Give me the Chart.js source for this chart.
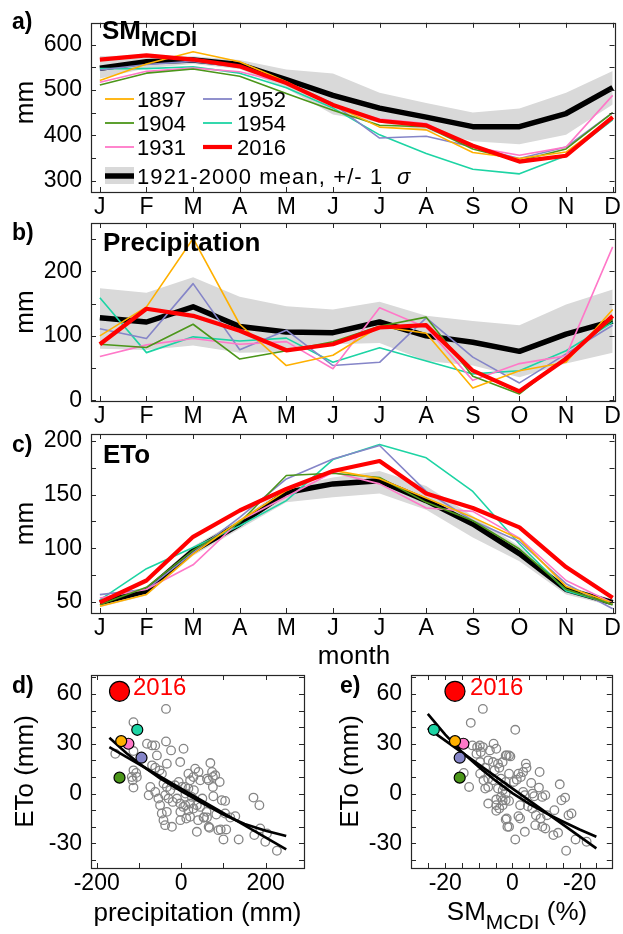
<!DOCTYPE html>
<html><head><meta charset="utf-8">
<script src="https://cdn.jsdelivr.net/npm/chart.js@4.4.1/dist/chart.umd.min.js"></script>
<style>
html,body{margin:0;padding:0;background:#fff;}
#wrap{position:relative;width:623px;height:934px;overflow:hidden;background:#fff;}
canvas{position:absolute;left:0;top:0;}
</style></head><body>
<div id="wrap">
<canvas id="ca" width="623" height="934" style="width:623px;height:934px"></canvas>
<canvas id="cb" width="623" height="934" style="width:623px;height:934px"></canvas>
<canvas id="cc" width="623" height="934" style="width:623px;height:934px"></canvas>
<canvas id="cd" width="623" height="934" style="width:623px;height:934px"></canvas>
<canvas id="ce" width="623" height="934" style="width:623px;height:934px"></canvas>
</div>
<script>
// ---------------- DATA ----------------
const months = ['J','F','M','A','M','J','J','A','S','O','N','D'];
const years = ['1897','1904','1931','1952','1954','2016'];

// a) SM_MCDI (mm)
const smMean  = [548,562,566,556,523,488,460,440,419,419,448,505];
const smUpper = [575,576,574,566,545,536,494,471,450,459,494,542];
const smLower = [525,548,557,546,503,446,428,410,387,380,401,468];
const sm1897 = [521,557,584,562,518,467,418,412,362,349,363,440];
const sm1904 = [511,537,546,530,492,455,422,419,370,344,370,450];
const sm1931 = [517,541,548,540,515,465,436,426,374,356,374,488];
const sm1952 = [544,556,563,550,515,470,394,398,374,349,374,450];
const sm1954 = [547,547,551,537,505,460,401,360,325,315,355,434];
const sm2016 = [567,576,567,552,515,467,432,422,377,342,355,440];

// b) Precipitation (mm)
const prMean  = [128,121.5,145,114.5,106,105,121.5,100,90,76,102.6,123];
const prUpper = [174,166.7,191,160.6,146,141,153,131,123,116.5,148.7,172];
const prLower = [80,78,85,74,75,87,89,61,54,36,57,74];
const pr1897 = [100,145,251,118,54,70,114.5,104,19,46,59,141];
const pr1904 = [87,82,118,64,77,91,115,129,37.5,10,67,125.7];
const pr1931 = [68,86,96,87,91,49,143.6,113,31,57,69,238];
const pr1952 = [111,96,181,78.5,108.8,54,59,128,67,27,72,116.5];
const pr1954 = [159,74,98.5,92,96.5,59,81.5,61,41,46,77,121];
const pr2016 = [87,142,131,108,77.6,87,113,116.5,46,14,64.6,131];

// c) ETo (mm)
const etMean  = [49.4,60.3,97.7,122.6,152,160,163,144.4,122.6,95,61.8,49.4];
const etUpper = [53,64,102,127,157,166,172,158,130,102,65,52.5];
const etLower = [45,56,93,118,143,147.5,151,136,110,88,57,46.3];
const et1897 = [46,57,94.6,125.7,153.7,172.6,164.9,146.9,128.8,108.6,64.5,49];
const et1904 = [47.5,63.6,98,124,167.8,169.9,166,142.8,125.7,99.3,61.8,47.5];
const et1931 = [53.7,61.8,84.6,125.7,148,170.8,160,137.6,134.4,109.5,70,49];
const et1952 = [56.8,61.8,96,128.8,164.6,183.3,195.8,153.1,125.7,106.3,67,43.6];
const et1954 = [52,81,100.7,121,144.4,182.7,196.7,184.3,153,104,60.3,48];
const et2016 = [49.6,70,110.7,135.2,155.3,172,181.3,151,137.6,119.5,82.5,54];

// d/e) highlighted years: ETo anomaly, precipitation anomaly, SM anomaly
const yrEToAnom  = [31.6,9.6,30,21.6,38.4,61.6];
const yrPrAnom   = [-142,-146,-125,-94,-104,-146];
const yrSMAnom   = [-17.1,-15.7,-14.6,-15.7,-23.4,-17.1];

// d) all years: precipitation anomaly (x) vs ETo anomaly (y)
const dPrX = [-36,-113,-81,-69,-61.5,-36,-24,5.5,-156,-113,-57.5,-34,-2.4,-69,-61.5,-51,-113,-106.5,-117,-105,-115,-113,-45.7,33,41,17,29,21,45,61,-6,1.6,9.5,17,-42,-34,-26,-77,-61.5,-73,-54,-38,-30,-50,-10,-2.4,9.5,21,29,37,45,17,-46,-34,-2,21,-42,-38,-22,-2,37,54,65,69,80.5,91,65,73,75,75,76,96,104,171,185,83,104,116,128,53,61,67,88,93.5,106.5,100,136,173,187,199,203,226.5,10,25,-15,5,30,50,12,-20,40,60];
const dEtY = [51,43,30,29,29,31.4,26,27,24,25.6,23,18,19,17,15.6,14,14,12.4,10,10,8,3.6,12,15,13,12,10,8,8,9,7,4,4,3,6,4,2,-1,1,4,-3,-1,-3,-7,-3,-6,-7,-6,-9,-7,-8,-10,-12,-11,-11,-14,-16,-19,-20,-16,-23,-14.4,-20,18.4,11,7,8,13,10,4,-1.6,-4,-4.4,-2.4,-7,-12.6,-12,-14.4,-13.6,-14.4,-14.4,-20.6,-22,-21.6,-21.6,-27.6,-27.6,-25,-21,-29,-24,-34.4,0,-2,5,-8,2,-3,-15,-5,-16,-11];

// e) all years: SM anomaly (x) vs ETo anomaly (y)
const eSmX = [-8.8,-12.4,-11.9,-10.5,-9.7,-8.8,-5.6,-4.8,-6.7,-10.7,-9.4,-2,-1,-9.6,-7.2,-5.8,-4.3,-2.9,-8.1,-5.3,-3.9,-14.5,-12.9,-9.6,-8.6,-7.2,-5.8,-3.4,-2,-8.1,-7.2,-4.3,-2.9,-7.2,-4.8,-2.9,-4.8,-3.4,-2,-4.8,-3.9,-2,-1.5,0.85,-1.7,-0.6,4,4.2,3.2,2.5,1.3,0.4,8.1,-1,1.8,5.6,7.9,9.8,8.9,14.1,3.2,3.7,6,6.5,-2.5,-2,-2.9,-1,2.3,4.6,5.9,14.6,15.7,12.5,7,8.4,10.3,8.9,9.8,6.8,1.8,2.3,-1.7,-1,16.7,17.6,3.7,0.85,12.2,13.6,18.8,22.1,16];
const eEtY = [51,42.6,29,28,29,28,30,27,26,24,25,23,23,19,20,19,18,19,15.6,14,15.6,12.4,4,12,8,9,8,9,7,3,4,3,2,-6,-7,-7,-3.6,-2,-4,-10.4,-9,-15.6,-20,38.4,23,22.4,18,15.6,13,10,8.4,7,13,12,12,6.4,3.6,-1,-2,5.6,1,-1,0,-1.6,4.4,0,-4,-4.4,-7,-7.6,-9,-4,-2.4,-10,-13,-15,-13,-20,-21,-19,-13.6,-15,-15,-20,-13,-12,-23,-27.6,-25,-23.6,-27.6,-29,-34.4];

// fitted relations
const dCurveX = [-170,-130,-100,-50,0,50,100,150,200,248.5];
const dCurveY = [33.6,24.5,18.2,9.2,1.5,-5.8,-12.6,-18.3,-22.4,-25.6];
const dLineX = [-170,248.5];
const dLineY = [28,-33.6];
const eCurveX = [-25.2,-20,-15,-10,-5,0,5,10,15,20,25];
const eCurveY = [48,35.5,25,16,7.8,0.3,-6.2,-11.8,-16.8,-21.6,-26];
const eLineX = [-25.2,25];
const eLineY = [39.4,-33];

// tick labels / tick marks
const lineXTicks = [0,1,2,3,4,5,6,7,8,9,10,11];
const aYLabels = [300,400,500,600];
const aYMarks = [300,350,400,450,500,550,600];
const bYLabels = [0,100,200];
const bYMarks = [0,50,100,150,200,250];
const cYLabels = [50,100,150,200];
const cYMarks = [50,75,100,125,150,175,200];
const sYLabels = [-30,0,30,60];
const sYMarks = [-40,-30,-20,-10,0,10,20,30,40,50,60,70];
const dXLabels = [-200,0,200];
const dXMarks = [-200,-100,0,100,200];
const eXLabels = [-20,0,20];
const eXLabelText = ['-20','0','-20'];
const eXMarks = [-25,-20,-15,-10,-5,0,5,10,15,20,25];

// ---------------- STYLE ----------------
const FF = "'Liberation Sans', Arial, Helvetica, sans-serif";
const COL = {'1897':'#ffb000','1904':'#4b9619','1931':'#ff78c8','1952':'#8585c8','1954':'#1dd4a4','2016':'#ff0000'};
const BAND = '#d9d9d9';
const TICKFONT = {family: FF, size: 23};

const textPlugin = {
  id: 'panelText',
  afterDraw(chart, args, opts) {
    const ctx = chart.ctx;
    for (const it of (opts.items || [])) {
      ctx.save();
      if (it.kind === 'line') {
        ctx.strokeStyle = it.color; ctx.lineWidth = it.width; ctx.lineCap = 'butt';
        ctx.beginPath(); ctx.moveTo(it.x1, it.y1); ctx.lineTo(it.x2, it.y2); ctx.stroke();
      } else if (it.kind === 'rect') {
        ctx.fillStyle = it.color; ctx.fillRect(it.x, it.y, it.w, it.h);
      } else {
        ctx.translate(it.x, it.y);
        if (it.rot) ctx.rotate(it.rot);
        let total = 0;
        for (const r of it.runs) { ctx.font = r.font; ctx.letterSpacing = r.ls || '0px'; total += ctx.measureText(r.t).width; }
        let x = it.align === 'center' ? -total / 2 : (it.align === 'right' ? -total : 0);
        ctx.textBaseline = 'alphabetic'; ctx.textAlign = 'left';
        for (const r of it.runs) {
          ctx.font = r.font; ctx.letterSpacing = r.ls || '0px'; ctx.fillStyle = r.color || '#000';
          ctx.fillText(r.t, x, r.dy || 0);
          x += ctx.measureText(r.t).width;
        }
        ctx.letterSpacing = '0px';
      }
      ctx.restore();
    }
  }
};

const boxPlugin = {
  id: 'boxTicks',
  afterDatasetsDraw(chart, args, opts) {
    const {ctx, chartArea} = chart;
    const {left, right, top, bottom} = chartArea;
    const xs = chart.scales.x, ys = chart.scales.y;
    const L = 5;
    ctx.save();
    ctx.strokeStyle = '#262626'; ctx.lineWidth = 1;
    ctx.beginPath();
    for (const v of opts.xMarks) {
      const p = Math.round(xs.getPixelForValue(v)) + 0.5;
      ctx.moveTo(p, bottom); ctx.lineTo(p, bottom - L);
      ctx.moveTo(p, top); ctx.lineTo(p, top + L);
    }
    for (const v of opts.yMarks) {
      const p = Math.round(ys.getPixelForValue(v)) + 0.5;
      ctx.moveTo(left, p); ctx.lineTo(left + L, p);
      ctx.moveTo(right, p); ctx.lineTo(right - L, p);
    }
    ctx.stroke();
    ctx.lineWidth = 1.2;
    ctx.strokeRect(Math.round(left) + 0.5, Math.round(top) + 0.5, Math.round(right - left), Math.round(bottom - top));
    ctx.restore();
  }
};

function xy(arr) { return arr.map((v, i) => ({x: i, y: v})); }
function pairs(xa, ya) { return xa.map((v, i) => ({x: v, y: ya[i]})); }

function scales(G, xr, yr, xLabels, yLabels, xCb) {
  return {
    x: {
      type: 'linear', min: xr[0], max: xr[1], position: 'bottom',
      grid: {display: false, drawTicks: false}, border: {display: false},
      ticks: {font: TICKFONT, color: '#000', padding: 2, autoSkip: false, maxRotation: 0, minRotation: 0, callback: xCb},
      afterBuildTicks: s => { s.ticks = xLabels.map(v => ({value: v})); },
      afterFit: s => { s.height = 934 - G.B; }
    },
    y: {
      type: 'linear', min: yr[0], max: yr[1], position: 'left',
      grid: {display: false, drawTicks: false}, border: {display: false},
      ticks: {font: TICKFONT, color: '#000', padding: 9, autoSkip: false, callback: v => String(v)},
      afterBuildTicks: s => { s.ticks = yLabels.map(v => ({value: v})); },
      afterFit: s => { s.width = G.L; }
    }
  };
}

function baseOpts(G) {
  return {
    responsive: false, animation: false, devicePixelRatio: 1,
    layout: {padding: {left: 0, top: G.T, right: 623 - G.R, bottom: 0}},
    events: [],
  };
}

function lineChart(id, G, yr, yLabels, yMarks, series, mean, upper, lower, texts) {
  const ds = [];
  ds.push({data: xy(series[5]), borderColor: COL['2016'], borderWidth: 4.2, order: 0});
  for (let i = 0; i < 5; i++) ds.push({data: xy(series[i]), borderColor: COL[years[i]], borderWidth: 1.6, order: i + 1});
  ds.push({data: xy(mean), borderColor: '#000', borderWidth: 5.5, order: 6});
  ds.push({data: xy(upper), borderWidth: 0, borderColor: 'rgba(0,0,0,0)', backgroundColor: BAND, fill: '+1', order: 7});
  ds.push({data: xy(lower), borderWidth: 0, borderColor: 'rgba(0,0,0,0)', fill: false, order: 8});
  ds.forEach(d => { d.pointRadius = 0; d.tension = 0; d.borderJoinStyle = 'round'; if (d.fill === undefined) d.fill = false; });
  const o = baseOpts(G);
  o.scales = scales(G, [-0.19, 11.04], yr, lineXTicks, yLabels, v => months[v]);
  o.plugins = {legend: {display: false}, tooltip: {enabled: false},
    panelText: {items: texts}, boxTicks: {xMarks: lineXTicks, yMarks: yMarks}};
  return new Chart(document.getElementById(id), {type: 'line', data: {datasets: ds}, options: o, plugins: [textPlugin, boxPlugin]});
}

function scatterChart(id, G, xr, xLabels, xMarks, xCb, allX, allY, yrX, curveX, curveY, lineX, lineY, texts) {
  const ds = [];
  ds.push({data: [{x: yrX[5], y: yrEToAnom[5]}], pointRadius: 10, backgroundColor: COL['2016'], borderColor: '#000', borderWidth: 1.2, order: 0});
  for (let i = 0; i < 5; i++) ds.push({data: [{x: yrX[i], y: yrEToAnom[i]}], pointRadius: 5.5, backgroundColor: COL[years[i]], borderColor: '#000', borderWidth: 1.2, order: 1});
  ds.push({data: pairs(curveX, curveY), showLine: true, pointRadius: 0, borderColor: '#000', borderWidth: 2.6, tension: 0, order: 2});
  ds.push({data: pairs(lineX, lineY), showLine: true, pointRadius: 0, borderColor: '#000', borderWidth: 2.6, order: 2});
  ds.push({data: pairs(allX, allY), pointRadius: 4.3, backgroundColor: 'rgba(0,0,0,0)', borderColor: '#858585', borderWidth: 1.3, order: 3});
  const o = baseOpts(G);
  o.scales = scales(G, xr, [-44.8, 71.4], xLabels, sYLabels, xCb);
  o.plugins = {legend: {display: false}, tooltip: {enabled: false},
    panelText: {items: texts}, boxTicks: {xMarks: xMarks, yMarks: sYMarks}};
  return new Chart(document.getElementById(id), {type: 'scatter', data: {datasets: ds}, options: o, plugins: [textPlugin, boxPlugin]});
}

const B23 = 'bold 23px ' + FF;
const B26 = 'bold 26px ' + FF;
const R26 = '26px ' + FF;
const R22 = '22px ' + FF;
function T(x, y, runs, align, rot) { return {x, y, runs, align: align || 'left', rot: rot || 0}; }
function L(x1, y1, x2, y2, color, width) { return {kind: 'line', x1, y1, x2, y2, color, width}; }

// Legend items (panel a)
const legendItems = [];
const legCols = [[105, 137], [203, 237]];
const legRows = [99, 123, 147];
years.forEach((yrName, i) => {
  const c = legCols[Math.floor(i / 3)], r = legRows[i % 3];
  legendItems.push(L(c[0], r, c[0] + 29, r, COL[yrName], yrName === '2016' ? 4.2 : 1.8));
  legendItems.push(T(c[1], r + 8, [{t: yrName, font: R22}]));
});
legendItems.push({kind: 'rect', x: 105, y: 167, w: 29, h: 17, color: BAND});
legendItems.push(L(105, 176, 134, 176, '#000', 5.5));
legendItems.push(T(137, 184, [{t: '1921-2000 mean, +/- 1', font: R22, ls: '1.1px'}]));
legendItems.push(T(397, 184, [{t: 'σ', font: 'italic 22px ' + FF}]));

const GA = {L: 91, R: 617, T: 13, B: 192};
const GB = {L: 91, R: 617, T: 223, B: 401};
const GC = {L: 91, R: 617, T: 434, B: 613};
const GD = {L: 91, R: 304, T: 675, B: 868};
const GE = {L: 411, R: 621, T: 675, B: 868};
const ROT = -Math.PI / 2;

lineChart('ca', GA, [275, 648], aYLabels, aYMarks,
  [sm1897, sm1904, sm1931, sm1952, sm1954, sm2016], smMean, smUpper, smLower,
  [T(12, 29, [{t: 'a)', font: B23}]),
   T(102, 39, [{t: 'SM', font: B26}, {t: 'MCDI', font: 'bold 22px ' + FF, dy: 7}]),
   T(33, 102.5, [{t: 'mm', font: R26}], 'center', ROT)].concat(legendItems));

lineChart('cb', GB, [-1, 275], bYLabels, bYMarks,
  [pr1897, pr1904, pr1931, pr1952, pr1954, pr2016], prMean, prUpper, prLower,
  [T(12, 240, [{t: 'b)', font: B23}]),
   T(103, 251, [{t: 'Precipitation', font: B26}]),
   T(33, 312, [{t: 'mm', font: R26}], 'center', ROT)]);

lineChart('cc', GC, [39.7, 206.5], cYLabels, cYMarks,
  [et1897, et1904, et1931, et1952, et1954, et2016], etMean, etUpper, etLower,
  [T(12, 452, [{t: 'c)', font: B23}]),
   T(103, 463, [{t: 'ETo', font: B26}]),
   T(33, 523.5, [{t: 'mm', font: R26}], 'center', ROT),
   T(354, 664, [{t: 'month', font: R26}], 'center')]);

scatterChart('cd', GD, [-213.5, 290.6], dXLabels, dXMarks, v => String(v),
  dPrX, dEtY, yrPrAnom, dCurveX, dCurveY, dLineX, dLineY,
  [T(12, 693, [{t: 'd)', font: B23}]),
   T(133, 695, [{t: '2016', font: '24px ' + FF, color: '#ff0000'}]),
   T(33, 771.5, [{t: 'ETo (mm)', font: R26}], 'center', ROT),
   T(197.5, 921, [{t: 'precipitation (mm)', font: R26}], 'center')]);

scatterChart('ce', GE, [-30.2, 29.6], eXLabels, eXMarks, v => eXLabelText[eXLabels.indexOf(v)],
  eSmX, eEtY, yrSMAnom, eCurveX, eCurveY, eLineX, eLineY,
  [T(340, 693, [{t: 'e)', font: B23}]),
   T(470, 695, [{t: '2016', font: '24px ' + FF, color: '#ff0000'}]),
   T(358, 771.5, [{t: 'ETo (mm)', font: R26}], 'center', ROT),
   T(517, 920, [{t: 'SM', font: R26}, {t: 'MCDI', font: '21px ' + FF, dy: 9}, {t: ' (%)', font: R26}], 'center')]);
</script>
</body></html>
